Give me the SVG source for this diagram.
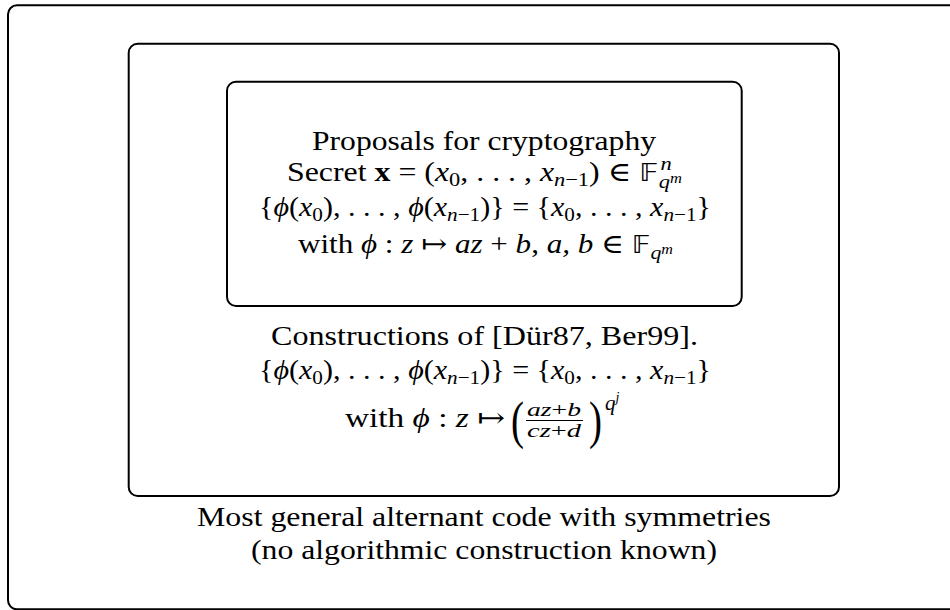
<svg xmlns="http://www.w3.org/2000/svg" width="950" height="610" viewBox="0 0 950 610">
<style>
.box{fill:none;stroke:#000;stroke-width:2}
text{font-family:"Liberation Serif","DejaVu Serif",serif;font-size:27px;fill:#000}
.i{font-style:italic}
.b{font-weight:bold}
.s{font-size:19px}
.ss{font-size:14px}
.dbl{font-family:"DejaVu Sans","Noto Sans",sans-serif;font-size:24px}
</style>
<rect width="950" height="610" fill="#fff"/>
<g id="outer">
<rect class="box" x="8" y="5.3" width="960" height="604" rx="9"/>
<text x="484" y="526" text-anchor="middle" textLength="574" lengthAdjust="spacingAndGlyphs">Most general alternant code with symmetries</text>
<text x="484" y="559" text-anchor="middle" textLength="466" lengthAdjust="spacingAndGlyphs">(no algorithmic construction known)</text>
</g>
<g id="middle">
<rect class="box" x="128.7" y="43.7" width="710.3" height="452.3" rx="9"/>
<text x="484.5" y="345" text-anchor="middle" textLength="427" lengthAdjust="spacingAndGlyphs">Constructions of [Dür87, Ber99].</text>
<text x="485" y="379" text-anchor="middle" textLength="452" lengthAdjust="spacingAndGlyphs">{<tspan class="i">ϕ</tspan>(<tspan class="i">x</tspan><tspan class="s" dy="5">0</tspan><tspan dy="-5">), . . . , </tspan><tspan class="i">ϕ</tspan>(<tspan class="i">x</tspan><tspan class="s i" dy="5">n</tspan><tspan class="s">−1</tspan><tspan dy="-5">)} = {</tspan><tspan class="i">x</tspan><tspan class="s" dy="5">0</tspan><tspan dy="-5">, . . . , </tspan><tspan class="i">x</tspan><tspan class="s i" dy="5">n</tspan><tspan class="s">−1</tspan><tspan dy="-5">}</tspan></text>
<text x="345" y="427" textLength="160" lengthAdjust="spacingAndGlyphs">with <tspan class="i">ϕ</tspan> : <tspan class="i">z</tspan> ↦</text>
<text x="0" y="0" style="font-size:52px" transform="translate(511 438) scale(0.75 1)">(</text>
<text x="554" y="416" text-anchor="middle" class="s" textLength="54" lengthAdjust="spacingAndGlyphs"><tspan class="i">az</tspan>+<tspan class="i">b</tspan></text>
<line x1="526" y1="420.5" x2="583" y2="420.5" stroke="#000" stroke-width="1.2"/>
<text x="554" y="437" text-anchor="middle" class="s" textLength="54" lengthAdjust="spacingAndGlyphs"><tspan class="i">cz</tspan>+<tspan class="i">d</tspan></text>
<text x="0" y="0" style="font-size:52px" transform="translate(589 438) scale(0.75 1)">)</text>
<text x="605" y="410" class="i" style="font-size:21px">q<tspan class="ss" dy="-8">j</tspan></text>
</g>
<g id="inner">
<rect class="box" x="227" y="81.7" width="514.7" height="224.3" rx="9"/>
<text x="484" y="150" text-anchor="middle" textLength="344" lengthAdjust="spacingAndGlyphs">Proposals for cryptography</text>
<text x="484.5" y="181" text-anchor="middle" textLength="395" lengthAdjust="spacingAndGlyphs">Secret <tspan class="b">x</tspan> = (<tspan class="i">x</tspan><tspan class="s" dy="5">0</tspan><tspan dy="-5">, . . . , </tspan><tspan class="i">x</tspan><tspan class="s i" dy="5">n</tspan><tspan class="s">−1</tspan><tspan dy="-5">) ∈ </tspan><tspan class="dbl">𝔽</tspan><tspan class="s i" dx="2" dy="-11">n</tspan><tspan class="s i" dx="-11" dy="18">q</tspan><tspan class="ss i" dy="-5">m</tspan></text>
<text x="485" y="216" text-anchor="middle" textLength="452" lengthAdjust="spacingAndGlyphs">{<tspan class="i">ϕ</tspan>(<tspan class="i">x</tspan><tspan class="s" dy="5">0</tspan><tspan dy="-5">), . . . , </tspan><tspan class="i">ϕ</tspan>(<tspan class="i">x</tspan><tspan class="s i" dy="5">n</tspan><tspan class="s">−1</tspan><tspan dy="-5">)} = {</tspan><tspan class="i">x</tspan><tspan class="s" dy="5">0</tspan><tspan dy="-5">, . . . , </tspan><tspan class="i">x</tspan><tspan class="s i" dy="5">n</tspan><tspan class="s">−1</tspan><tspan dy="-5">}</tspan></text>
<text x="485.5" y="253" text-anchor="middle" textLength="375" lengthAdjust="spacingAndGlyphs">with <tspan class="i">ϕ</tspan> : <tspan class="i">z</tspan> ↦ <tspan class="i">az</tspan> + <tspan class="i">b</tspan>, <tspan class="i">a, b</tspan> ∈ <tspan class="dbl">𝔽</tspan><tspan class="s i" dy="6">q</tspan><tspan class="ss i" dy="-5">m</tspan></text>
</g>
</svg>
